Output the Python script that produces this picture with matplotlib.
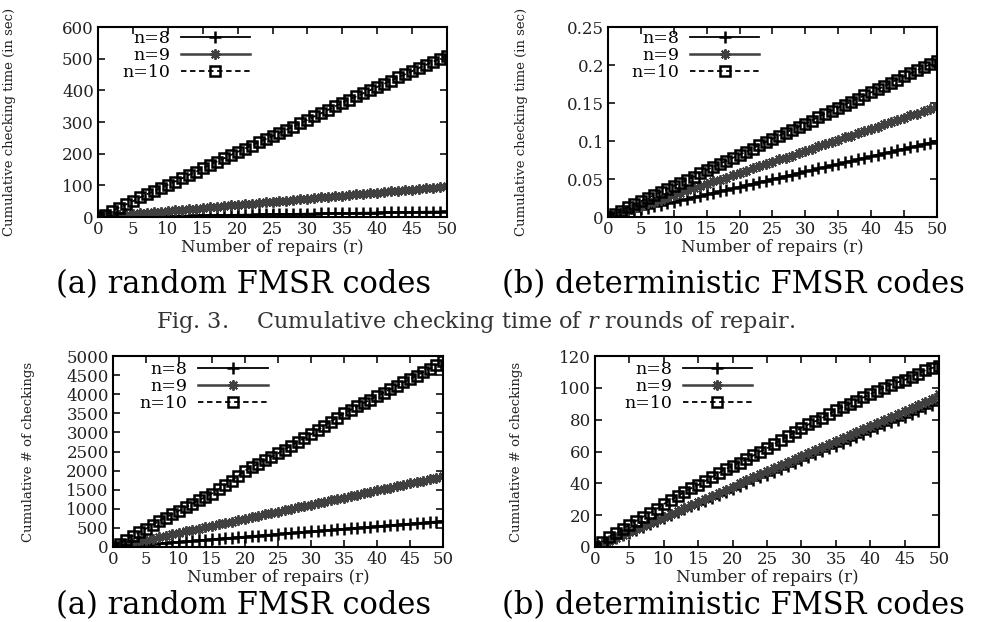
import matplotlib
matplotlib.use("Agg")
import matplotlib.pyplot as plt
from matplotlib.ticker import FixedLocator, FuncFormatter

plt.rcParams['font.family'] = ['DejaVu Serif']
plt.rcParams['mathtext.fontset'] = 'dejavuserif'

r = list(range(51))

# (a) random FMSR codes: cumulative checking time (sec)
time_rand_n8 = [0, 0.4, 0.7, 1.1, 1.4, 1.8, 2.2, 2.5, 2.9, 3.3, 3.6, 4.0, 4.3, 4.7, 5.0, 5.4, 5.8,
                6.1, 6.5, 6.8, 7.2, 7.6, 7.9, 8.3, 8.6, 9.0, 9.4, 9.7, 10.1, 10.4, 10.8, 11.2, 11.5,
                11.9, 12.2, 12.6, 13.0, 13.3, 13.7, 14.0, 14.4, 14.8, 15.1, 15.5, 15.8, 16.2, 16.6,
                16.9, 17.3, 17.6, 18.0]
time_rand_n9 = [0, 2, 4, 6, 8, 10, 12, 13.5, 15.5, 17.5, 19.5, 21.5, 23, 25, 27, 29, 31, 33, 35, 37,
                39, 41, 42.5, 44.5, 46.5, 48.5, 50.5, 52, 54, 56, 58, 60, 62, 64, 66, 68, 70, 72,
                73.5, 75.5, 77.5, 79.5, 81.5, 83, 85, 87, 89, 91, 93, 95, 97]
time_rand_n10 = [0, 8, 18, 30, 40, 50, 62, 72, 82, 92, 102, 112, 122, 133, 143, 154, 165, 175, 185,
                 196, 206, 216, 226, 236, 246, 256, 266, 276, 286, 296, 307, 318, 328, 339, 350, 361,
                 371, 381, 391, 401, 411, 421, 431, 441, 451, 461, 471, 481, 491, 500, 510]

# (b) deterministic FMSR codes: cumulative checking time (sec)
time_det_n8 = [0, 0.002, 0.004, 0.006, 0.008, 0.010, 0.012, 0.014, 0.016, 0.018, 0.020, 0.022,
               0.024, 0.026, 0.028, 0.030, 0.032, 0.034, 0.036, 0.038, 0.040, 0.042, 0.044, 0.046,
               0.048, 0.050, 0.052, 0.054, 0.056, 0.058, 0.060, 0.062, 0.064, 0.066, 0.068, 0.070,
               0.072, 0.074, 0.076, 0.078, 0.080, 0.082, 0.084, 0.086, 0.088, 0.090, 0.092, 0.094,
               0.096, 0.098, 0.100]
time_det_n9 = [0, 0.003, 0.006, 0.009, 0.012, 0.015, 0.018, 0.020, 0.023, 0.026, 0.029, 0.032,
               0.035, 0.038, 0.041, 0.044, 0.047, 0.049, 0.052, 0.055, 0.058, 0.061, 0.064, 0.067,
               0.070, 0.073, 0.076, 0.078, 0.081, 0.084, 0.087, 0.090, 0.093, 0.096, 0.099, 0.102,
               0.105, 0.107, 0.110, 0.113, 0.116, 0.119, 0.122, 0.125, 0.128, 0.131, 0.134, 0.136,
               0.139, 0.142, 0.145]
time_det_n10 = [0, 0.004, 0.008, 0.013, 0.017, 0.021, 0.025, 0.029, 0.033, 0.037, 0.041, 0.045,
                0.049, 0.053, 0.058, 0.062, 0.066, 0.070, 0.074, 0.078, 0.082, 0.086, 0.090, 0.095,
                0.099, 0.103, 0.107, 0.111, 0.115, 0.119, 0.123, 0.127, 0.132, 0.136, 0.140, 0.144,
                0.148, 0.152, 0.156, 0.160, 0.164, 0.168, 0.172, 0.177, 0.181, 0.185, 0.189, 0.193,
                0.197, 0.201, 0.205]

# (a) random FMSR codes: cumulative number of checkings
chk_rand_n8 = [0, 14, 27, 41, 54, 68, 82, 95, 109, 122, 136, 150, 163, 177, 190, 204, 218, 231, 245,
               258, 272, 286, 299, 313, 326, 340, 354, 367, 381, 394, 408, 422, 435, 449, 462, 476,
               490, 503, 517, 530, 544, 558, 571, 585, 598, 612, 626, 639, 653, 666, 680]
chk_rand_n9 = [0, 37, 74, 111, 148, 185, 222, 259, 296, 333, 370, 407, 444, 481, 518, 555, 592, 629,
               666, 703, 740, 777, 814, 851, 888, 925, 962, 999, 1036, 1073, 1110, 1147, 1184, 1221,
               1258, 1295, 1332, 1369, 1406, 1443, 1480, 1517, 1554, 1591, 1628, 1665, 1702, 1739,
               1776, 1813, 1850]
chk_rand_n10 = [0, 90, 190, 290, 385, 480, 580, 680, 770, 860, 950, 1040, 1130, 1220, 1310, 1400,
                1510, 1620, 1730, 1860, 2000, 2090, 2180, 2270, 2360, 2450, 2550, 2650, 2750, 2850,
                2950, 3060, 3170, 3280, 3390, 3500, 3590, 3680, 3770, 3860, 3950, 4040, 4130, 4220,
                4310, 4400, 4490, 4580, 4670, 4760, 4880]

# (b) deterministic FMSR codes: cumulative number of checkings
chk_det_n8 = [0, 1.8, 3.6, 5.5, 7.3, 9.1, 10.9, 12.7, 14.6, 16.4, 18.2, 20.0, 21.8, 23.7, 25.5, 27.3,
              29.1, 30.9, 32.8, 34.6, 36.4, 38.2, 40.0, 41.9, 43.7, 45.5, 47.3, 49.1, 51.0, 52.8,
              54.6, 56.4, 58.2, 60.1, 61.9, 63.7, 65.5, 67.3, 69.2, 71.0, 72.8, 74.6, 76.4, 78.3,
              80.1, 81.9, 83.7, 85.5, 87.4, 89.2, 91.0]
chk_det_n9 = [0, 1.9, 3.8, 5.7, 7.6, 9.5, 11.4, 13.3, 15.2, 17.1, 19.0, 20.9, 22.8, 24.7, 26.6, 28.5,
              30.4, 32.3, 34.2, 36.1, 38.0, 39.9, 41.8, 43.7, 45.6, 47.5, 49.4, 51.3, 53.2, 55.1,
              57.0, 58.9, 60.8, 62.7, 64.6, 66.5, 68.4, 70.3, 72.2, 74.1, 76.0, 77.9, 79.8, 81.7,
              83.6, 85.5, 87.4, 89.3, 91.2, 93.1, 96.0]
chk_det_n10 = [0, 3, 6, 8.5, 11, 14, 16.5, 19, 21.5, 24, 27, 29.5, 32, 34.5, 37, 39, 41.5, 44, 46.5,
               49, 51, 53, 55, 57.5, 60, 62, 64.5, 67, 69.5, 72, 75, 77, 79, 81, 83.5, 86, 88, 90,
               92, 94, 96, 98, 100, 102, 103.5, 105, 107, 109, 111, 112.5, 114]

labels = ["n=8", "n=9", "n=10"]
xticks = [0, 5, 10, 15, 20, 25, 30, 35, 40, 45, 50]

panels = [
    dict(rect=[0.0996, 0.651, 0.3547, 0.3055], series=[time_rand_n8, time_rand_n9, time_rand_n10],
         yticks=[0, 100, 200, 300, 400, 500, 600], ylabel="Cumulative checking time (in sec)",
         ylab_x=-0.235, leg=(0.045, 1.03)),
    dict(rect=[0.618, 0.651, 0.334, 0.3055], series=[time_det_n8, time_det_n9, time_det_n10],
         yticks=[0, 0.05, 0.1, 0.15, 0.2, 0.25], ylabel="Cumulative checking time (in sec)",
         ylab_x=-0.245, leg=(0.045, 1.03)),
    dict(rect=[0.1148, 0.1206, 0.3354, 0.307], series=[chk_rand_n8, chk_rand_n9, chk_rand_n10],
         yticks=[0, 500, 1000, 1500, 2000, 2500, 3000, 3500, 4000, 4500, 5000],
         ylabel="Cumulative # of checkings", ylab_x=-0.235, leg=(0.055, 1.02)),
    dict(rect=[0.6047, 0.1206, 0.3496, 0.307], series=[chk_det_n8, chk_det_n9, chk_det_n10],
         yticks=[0, 20, 40, 60, 80, 100, 120], ylabel="Cumulative # of checkings",
         ylab_x=-0.21, leg=(0.06, 1.02)),
]

styles = [
    dict(color='black', linestyle='-', marker='+', markersize=9, markeredgewidth=1.8,
         markerfacecolor='none', linewidth=1.3),
    dict(color='#404040', linestyle='-', marker=(8, 2, 0), markersize=7.5, markeredgewidth=1.4,
         markerfacecolor='none', linewidth=1.8),
    dict(color='black', linestyle=(0, (3, 2)), marker='s', markersize=6.5, markeredgewidth=1.8,
         markerfacecolor='none', linewidth=1.3),
]

fig = plt.figure(figsize=(9.84, 6.22), dpi=100)

for p in panels:
    ax = fig.add_axes(p['rect'])
    for s, lab, st in zip(p['series'], labels, styles):
        ax.plot(r, s, label=lab, **st)
    ax.set_xlim(0, 50)
    ax.set_ylim(p['yticks'][0], p['yticks'][-1])
    ax.xaxis.set_major_locator(FixedLocator(xticks))
    ax.yaxis.set_major_locator(FixedLocator(p['yticks']))
    ax.yaxis.set_major_formatter(FuncFormatter(lambda v, pos: "%g" % v))
    ax.tick_params(direction='in', top=True, right=True, length=5, width=1.3,
                   labelsize=12, colors='#222222', pad=3)
    for sp in ax.spines.values():
        sp.set_linewidth(1.5)
    ax.set_xlabel("Number of repairs (r)", fontsize=12, labelpad=0.5, color='#222222')
    ax.set_ylabel(p['ylabel'], fontsize=9.5, color='#222222')
    ax.yaxis.set_label_coords(p['ylab_x'], 0.5)
    ax.legend(loc='upper left', markerfirst=False, frameon=False, fontsize=12.5,
              handlelength=4.0, handletextpad=0.6, labelspacing=0.0,
              borderaxespad=0.1, bbox_to_anchor=p['leg'])

fig.text(0.248, 0.543, "(a) random FMSR codes", fontsize=22, ha='center', va='center')
fig.text(0.745, 0.543, "(b) deterministic FMSR codes", fontsize=22, ha='center', va='center')
fig.text(0.483, 0.482, "Fig. 3.    Cumulative checking time of $r$ rounds of repair.",
         fontsize=16, ha='center', va='center', color='#333333')
fig.text(0.248, 0.026, "(a) random FMSR codes", fontsize=22, ha='center', va='center')
fig.text(0.745, 0.026, "(b) deterministic FMSR codes", fontsize=22, ha='center', va='center')

fig.savefig("out.png", dpi=100)
